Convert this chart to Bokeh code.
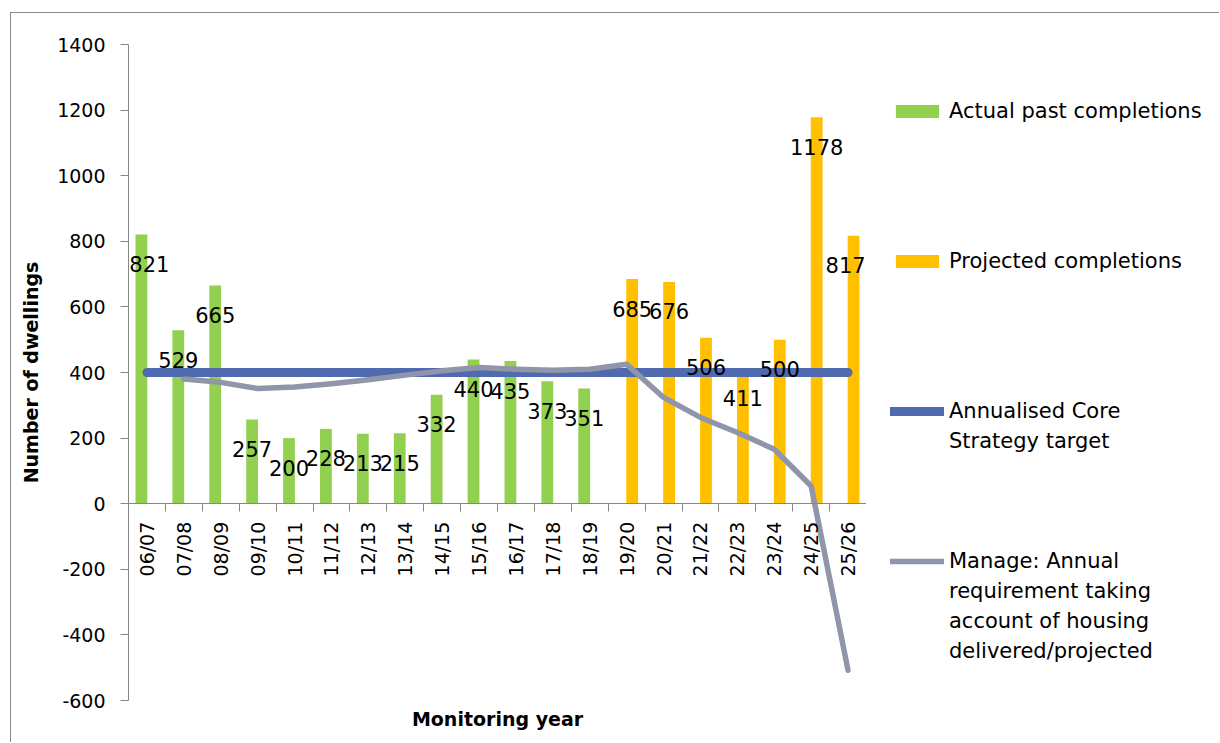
import math
from bokeh.plotting import figure
from bokeh.layouts import row
from bokeh.models import (FactorRange, Range1d, LinearAxis, CategoricalAxis, FixedTicker,
                          Legend, LegendItem, Title, ColumnDataSource, LabelSet)
from bokeh.transform import dodge
from bokeh.core.properties import value
from bokeh.embed import file_html
from bokeh.resources import INLINE

# ---- data ----
years = ["06/07", "07/08", "08/09", "09/10", "10/11", "11/12", "12/13", "13/14", "14/15",
         "15/16", "16/17", "17/18", "18/19", "19/20", "20/21", "21/22", "22/23", "23/24",
         "24/25", "25/26"]
actual_years = ["06/07", "07/08", "08/09", "09/10", "10/11", "11/12", "12/13", "13/14",
                "14/15", "15/16", "16/17", "17/18", "18/19"]
actual = [821, 529, 665, 257, 200, 228, 213, 215, 332, 440, 435, 373, 351]
projected_years = ["19/20", "20/21", "21/22", "22/23", "23/24", "24/25", "25/26"]
projected = [685, 676, 506, 411, 500, 1178, 817]
target = [400, 400, 400, 400, 400, 400, 400, 400, 400, 400,
          400, 400, 400, 400, 400, 400, 400, 400, 400, 400]
manage_years = years[1:]
manage = [380, 370, 351, 356, 366, 378, 392, 405, 415, 410, 407, 410, 425,
          324, 263, 217, 166, 54, -508]
y_ticks = [-600, -400, -200, 0, 200, 400, 600, 800, 1000, 1200, 1400]

FONT = "DejaVu Sans"
GREEN = "#92D050"
ORANGE = "#FFC000"
BLUE = "#4F6AAF"
GREY = "#9095A9"
AXIS = "#868686"

N = len(years)
p = figure(width=855, height=729, x_range=FactorRange(*years, range_padding=0),
           y_range=Range1d(-600, 1400), output_backend="svg", toolbar_location=None,
           x_axis_location=None, y_axis_location=None,
           min_border_left=117, min_border_right=0, min_border_top=31, min_border_bottom=42)
p.outline_line_color = None
p.xgrid.visible = False
p.ygrid.visible = False


def edge_shift(cats):
    # nudge the labels of the outermost categories inward so they stay inside the frame
    return [8 if c == years[0] else (-8 if c == years[-1] else 0) for c in cats]


src_a = ColumnDataSource(dict(year=actual_years, val=actual,
                              label=[str(v) for v in actual],
                              ly=[v - 90 for v in actual],
                              xo=edge_shift(actual_years)))
src_p = ColumnDataSource(dict(year=projected_years, val=projected,
                              label=[str(v) for v in projected],
                              ly=[v - 90 for v in projected],
                              xo=edge_shift(projected_years)))
src_t = ColumnDataSource(dict(year=years, val=target))
src_m = ColumnDataSource(dict(year=manage_years, val=manage))

bar_a = dict(x=dodge("year", -0.15, range=p.x_range), top="val", width=0.32,
             source=src_a, fill_color=GREEN, line_color=None)
bar_p = dict(x=dodge("year", 0.15, range=p.x_range), top="val", width=0.32,
             source=src_p, fill_color=ORANGE, line_color=None)
line_t = dict(x="year", y="val", source=src_t, line_width=9, line_color=BLUE,
              line_cap="round")
line_m = dict(x="year", y="val", source=src_m, line_width=5.5, line_color=GREY,
              line_join="round", line_cap="round")

p.vbar(**bar_a)
p.vbar(**bar_p)
p.line(**line_t)
p.line(**line_m)

for src, off in ((src_a, -0.15), (src_p, 0.15)):
    p.add_layout(LabelSet(x=dodge("year", off, range=p.x_range), y="ly", text="label",
                          x_offset="xo", source=src, text_align="center",
                          text_baseline="middle", text_font=value(FONT),
                          text_font_size=value("21px"), text_color="black"))

# y axis
yaxis = LinearAxis(ticker=FixedTicker(ticks=y_ticks), axis_label="Number of dwellings")
yaxis.axis_line_color = AXIS
yaxis.major_tick_line_color = AXIS
yaxis.major_tick_in = 0
yaxis.major_tick_out = 8
yaxis.minor_tick_line_color = None
yaxis.major_label_overrides = {t: str(t) for t in y_ticks}
yaxis.major_label_standoff = 15
yaxis.major_label_text_font = FONT
yaxis.major_label_text_font_size = "19px"
yaxis.major_label_text_color = "black"
yaxis.axis_label_text_font = FONT
yaxis.axis_label_text_font_size = "19px"
yaxis.axis_label_text_font_style = "bold"
yaxis.axis_label_text_color = "black"
yaxis.axis_label_standoff = 12
p.add_layout(yaxis, "left")

# category axis at y = 0
xaxis = CategoricalAxis(fixed_location=0)
xaxis.axis_line_color = AXIS
xaxis.major_tick_line_color = None
xaxis.major_tick_in = 0
xaxis.major_tick_out = 0
xaxis.major_label_orientation = math.pi / 2
xaxis.major_label_standoff = 18
xaxis.major_label_text_font = FONT
xaxis.major_label_text_font_size = "19px"
xaxis.major_label_text_color = "black"
p.add_layout(xaxis, "below")

# boundary tick marks between categories (synthetic factor coordinates)
taxis = LinearAxis(fixed_location=0, ticker=FixedTicker(ticks=list(range(N + 1))))
taxis.axis_line_color = None
taxis.major_tick_line_color = AXIS
taxis.major_tick_in = 0
taxis.major_tick_out = 8
taxis.minor_tick_line_color = None
taxis.major_label_overrides = {i: "" for i in range(N + 1)}
taxis.major_label_text_font_size = "1px"
p.add_layout(taxis, "below")

p.add_layout(Title(text="Monitoring year", align="center", text_font=FONT,
                   text_font_size="19px", text_font_style="bold", text_color="black"), "below")

# ---- legend panel: own figure sharing the ranges, hidden proxies of the same glyphs ----
lp = figure(width=353, height=729, x_range=p.x_range, y_range=p.y_range,
            output_backend="svg", toolbar_location=None,
            x_axis_location=None, y_axis_location=None,
            min_border_left=0, min_border_right=0, min_border_top=31, min_border_bottom=42)
lp.outline_line_color = None
lp.xgrid.visible = False
lp.ygrid.visible = False
g_a = lp.vbar(**bar_a, visible=False)
g_p = lp.vbar(**bar_p, visible=False)
g_t = lp.line(**line_t, visible=False)
g_m = lp.line(**line_m, visible=False)


def gap(n):
    return [LegendItem(label=" ", renderers=[]) for _ in range(n)]


items = ([LegendItem(label="Actual past completions", renderers=[g_a])] + gap(4)
         + [LegendItem(label="Projected completions", renderers=[g_p])] + gap(4)
         + [LegendItem(label="Annualised Core", renderers=[g_t]),
            LegendItem(label="Strategy target", renderers=[])] + gap(3)
         + [LegendItem(label="Manage: Annual", renderers=[g_m]),
            LegendItem(label="requirement taking", renderers=[]),
            LegendItem(label="account of housing", renderers=[]),
            LegendItem(label="delivered/projected", renderers=[])])

legend = Legend(items=items, location=(24, 34))
legend.margin = 0
legend.padding = 0
legend.spacing = 0
legend.label_height = 30
legend.glyph_width = 54
legend.glyph_height = 16
legend.label_standoff = 5
legend.label_text_font = FONT
legend.label_text_font_size = "21px"
legend.label_text_color = "black"
legend.border_line_color = None
legend.background_fill_alpha = 0
legend.inactive_fill_alpha = 0
lp.add_layout(legend)

layout = row(p, lp, styles={"margin-left": "10px", "margin-top": "12px",
                            "border-left": "1px solid #8a8a8a",
                            "border-top": "1px solid #8a8a8a"})

open("out.html", "w").write(file_html(layout, INLINE))
